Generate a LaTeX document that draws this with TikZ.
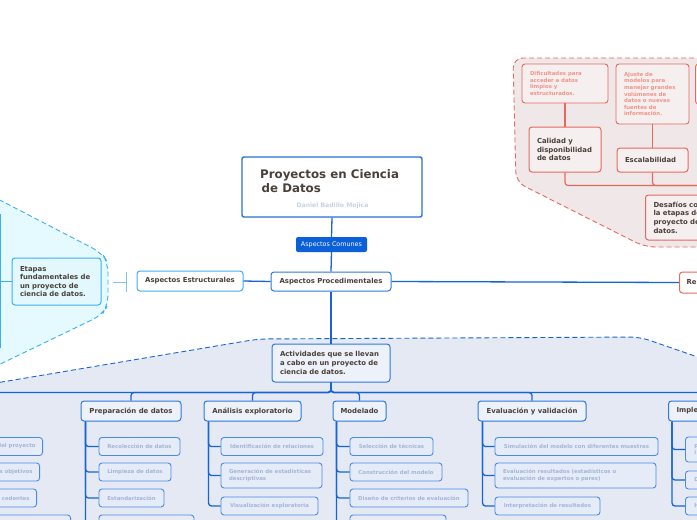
\documentclass[tikz,border=0pt]{standalone}
\usepackage{fontspec}
\setmainfont{DejaVu Sans}
\definecolor{ink}{HTML}{4A4039}
\definecolor{linkblue}{HTML}{1565D8}
\definecolor{titleline}{HTML}{2670DA}
\definecolor{combg}{HTML}{0B5FD8}
\definecolor{catline}{HTML}{2D78E0}
\definecolor{catfill}{HTML}{EDF1FA}
\definecolor{itemline}{HTML}{4A8BE6}
\definecolor{itemfill}{HTML}{E6ECF7}
\definecolor{itemtext}{HTML}{A3B5D9}
\definecolor{bluefill}{HTML}{E4E9F3}
\definecolor{cyanfill}{HTML}{E4FAFE}
\definecolor{cyanline}{HTML}{3DAEF0}
\definecolor{cyanbox}{HTML}{E2F8FD}
\definecolor{ticklight}{HTML}{7CC6F2}
\definecolor{authtext}{HTML}{C8D2E4}
\definecolor{redline}{HTML}{E5695E}
\definecolor{redfill}{HTML}{F0E8E8}
\definecolor{redbox}{HTML}{F5EFEF}
\definecolor{redtext}{HTML}{F29488}

\begin{document}
\begin{tikzpicture}[x=1pt, y=-1pt,
    box/.style={draw, rounded corners=3pt, line width=1pt, inner sep=0pt, text=ink,
        font=\bfseries\fontsize{6.9}{8.6}\selectfont},
    cat/.style={box, draw=catline, fill=catfill, minimum height=20},
    item/.style={box, draw=itemline, fill=itemfill, line width=0.9pt, minimum height=18,
        text=itemtext, font=\bfseries\fontsize{5.4}{6.3}\selectfont},
    reditem/.style={item, draw=redline, fill=redbox, text=redtext,
        font=\bfseries\fontsize{5.4}{6.6}\selectfont},
    redtopic/.style={box, draw=redline, fill=redbox},
    link/.style={draw=linkblue, line width=1.3pt, rounded corners=3pt},
    redlink/.style={draw=redline, line width=1.2pt, rounded corners=3pt},
    cyanlink/.style={draw=cyanline, line width=1.2pt},
    region/.style={dash pattern=on 5pt off 3pt, line width=0.9pt, rounded corners=10pt}
]

    \useasboundingbox (0,0) rectangle (697,520);
    \fill[white] (0,0) rectangle (697,520);

    % regions
    \path[region, draw=cyanline, fill=cyanfill] (-10,195) -- (102,253) -- (108,263) -- (108,305) -- (102,315) -- (-10,369) -- cycle;
    \path[region, draw=linkblue, fill=bluefill] (-10,384) -- (258,339) -- (640,337) -- (712,362) -- (712,530) -- (-10,530) -- cycle;
    \path[region, draw=redline, fill=redfill] (712,58) -- (513,58) -- (516,182) -- (645,247) -- (712,247) -- cycle;

    % centre
    \node[box, draw=titleline, fill=white, line width=1.4pt, rounded corners=2pt, minimum width=180, minimum height=60] (ttl) at (332,187) {};
    \node[anchor=north west, inner sep=0pt, text=ink, align=left, font=\bfseries\fontsize{11.8}{14}\selectfont] (ttltxt) at (260,169) {Proyectos en Ciencia\\\hspace{1.5pt}de Datos};
    \node[text=authtext, inner sep=0pt, font=\bfseries\fontsize{6.1}{7}\selectfont] (auth) at (332.5,205.5) {Daniel Badillo Mojica};
    \node[fill=combg, text=white, rounded corners=2pt, inner sep=0pt, minimum width=71, minimum height=15, font=\fontsize{6.4}{7}\selectfont] (com) at (331.5,244.5) {Aspectos Comunes};
    \node[cat, fill=white, minimum width=120, minimum height=19] (proc) at (331,281.5) {Aspectos Procedimentales};
    \node[box, draw=cyanline, fill=white, minimum width=106, minimum height=20] (est) at (190,281) {Aspectos Estructurales};
    \node[redtopic, fill=white, anchor=west, minimum height=21, text width=30, inner xsep=7pt, align=left] (re) at (679,282.5) {Re};

    \draw[link] (ttl.south) -- (com.north);
    \draw[link] (com.south) -- (proc.north);
    \draw[link] (proc.west) -- (est.east);
    \draw[link] (proc.east) -- (re.west);

    % etapas
    \node[box, draw=cyanline, fill=cyanbox, text width=73, inner xsep=8pt, minimum height=47, align=left] (etp) at (56.5,281.5) {Etapas\\fundamentales de\\un proyecto de\\ciencia de datos.};
    \coordinate (c1) at (-6,215);
    \coordinate (c2) at (-6,258);
    \coordinate (c3) at (-6,302);
    \coordinate (c4) at (-6,347);
    \coordinate (rgn) at (113,282);
    \coordinate (tick) at (126,282);
    \draw[cyanlink] (etp.west) -- ++(-11,0) |- (c1);
    \draw[cyanlink] (etp.west) -- ++(-11,0) |- (c2);
    \draw[cyanlink] (etp.west) -- ++(-11,0) |- (c3);
    \draw[cyanlink] (etp.west) -- ++(-11,0) |- (c4);
    \draw[cyanlink, draw=ticklight, line width=1pt] (rgn) -- (tick);
    \draw[cyanlink, draw=ticklight, line width=1pt] ([yshift=10pt]tick) -- ([yshift=-10pt]tick);

    % desafios
    \node[reditem, minimum width=86, minimum height=39, text width=70, inner xsep=8pt, align=left] (dif) at (565,83.5) {Dificultades para\\acceder a datos\\limpios y\\estructurados.};
    \node[reditem, minimum width=73, minimum height=60, text width=57, inner xsep=8pt, align=left] (aju) at (652.5,94) {Ajuste de\\modelos para\\manejar grandes\\volúmenes de\\datos o nuevas\\fuentes de\\información.};
    \node[reditem, anchor=west, minimum width=60, minimum height=40] (dif3) at (695,84) {};
    \node[redtopic, minimum width=72, minimum height=45, text width=56, inner xsep=8pt, align=left] (cal) at (565,149.5) {Calidad y\\disponibilidad\\de datos};
    \node[redtopic, minimum width=71, minimum height=24, text width=55, inner xsep=8pt, align=left] (esc) at (652.5,160) {Escalabilidad};
    \node[redtopic, anchor=west, minimum width=110, minimum height=45, text width=94, inner xsep=8pt, align=left] (des) at (645,217.5) {Desafíos co\\la etapas de\\proyecto de\\datos.};

    \draw[redlink] (dif.south) -- (cal.north);
    \draw[redlink] (aju.south) -- (esc.north);
    \draw[redlink] (cal.south) -- ++(0,13) -| (des.north);
    \draw[redlink] (esc.south) -- ++(0,13) -| (des.north);

    % actividades
    \node[box, draw=catline, fill=catfill, text width=102, inner xsep=8pt, minimum height=38, align=left] (act) at (331,363) {Actividades que se llevan\\a cabo en un proyecto de\\ciencia de datos.};
    \draw[link] (proc.south) -- (act.north);

    \coordinate (lcat) at (-60,401);
    \node[cat, minimum width=100] (prep) at (131,411) {Preparación de datos};
    \node[cat, minimum width=97] (ana) at (252.5,411) {Análisis exploratorio};
    \node[cat, minimum width=53] (mod) at (359.5,411) {Modelado};
    \node[cat, minimum width=108] (eva) at (532,411) {Evaluación y validación};
    \node[cat, anchor=west, text width=60, inner xsep=8pt, align=left] (imp) at (668,411) {Imple};

    \draw[link] (act.south) -- ++(0,10) -| (lcat);
    \draw[link] (act.south) -- ++(0,10) -| (prep.north);
    \draw[link] (act.south) -- ++(0,10) -| (ana.north);
    \draw[link] (act.south) -- ++(0,10) -| (mod.north);
    \draw[link] (act.south) -- ++(0,10) -| (eva.north);
    \draw[link] (act.south) -- ++(0,10) -| (imp.north);

    % left column
    \node[item, anchor=east, text width=80, inner xsep=7pt, align=right] (pro) at (43,446.5) {del proyecto};
    \node[item, anchor=east, text width=80, inner xsep=7pt, align=right] (obj) at (40,472) {s objetivos};
    \node[item, anchor=east, text width=80, inner xsep=7pt, align=right] (ant) at (37,498) {cedentes};
    \node[item, anchor=east, minimum width=100, minimum height=20] (lft4) at (71,525) {};

    % preparacion
    \node[item, minimum width=81] (rec) at (139.5,446.5) {Recolección de datos};
    \node[item, minimum width=72] (lim) at (135,472) {Limpieza de datos};
    \node[item, minimum width=65] (std) at (131.5,498) {Estandarización};
    \node[item, minimum width=95, minimum height=20] (prp4) at (146.5,525) {};
    \draw[link] ([xshift=5pt]prep.south west) |- (rec.west);
    \draw[link] ([xshift=5pt]prep.south west) |- (lim.west);
    \draw[link] ([xshift=5pt]prep.south west) |- (std.west);
    \draw[link] ([xshift=5pt]prep.south west) |- (prp4.west);

    % analisis
    \node[item, minimum width=102] (rel) at (272,446.5) {Identificación de relaciones};
    \node[item, minimum width=101, minimum height=25, text width=85, inner xsep=8pt, align=left] (gen) at (271.5,475.5) {Generación de estadísticas\\descriptivas};
    \node[item, minimum width=97] (vis) at (269.5,506) {Visualización exploratoria};
    \draw[link] ([xshift=5pt]ana.south west) |- (rel.west);
    \draw[link] ([xshift=5pt]ana.south west) |- (gen.west);
    \draw[link] ([xshift=5pt]ana.south west) |- (vis.west);

    % modelado
    \node[item, minimum width=83] (tec) at (391.5,446.5) {Selección de técnicas};
    \node[item, minimum width=92] (cons) at (396,472) {Construcción del modelo};
    \node[item, minimum width=118] (crit) at (409,498) {Diseño de criterios de evaluación};
    \node[item, minimum width=96, minimum height=20] (mod4) at (398,525) {};
    \draw[link] ([xshift=4pt]mod.south west) |- (tec.west);
    \draw[link] ([xshift=4pt]mod.south west) |- (cons.west);
    \draw[link] ([xshift=4pt]mod.south west) |- (crit.west);
    \draw[link] ([xshift=4pt]mod.south west) |- (mod4.west);

    % evaluacion
    \node[item, minimum width=163] (sim) at (576.5,446.5) {Simulación del modelo con diferentes muestras};
    \node[item, minimum width=161, minimum height=25, text width=145, inner xsep=8pt, align=left] (res) at (575.5,475.5) {Evaluación resultados (estadísticos o\\evaluación de expertos o pares)};
    \node[item, minimum width=105] (intp) at (547.5,506) {Interpretación de resultados};
    \draw[link] ([xshift=5pt]eva.south west) |- (sim.west);
    \draw[link] ([xshift=5pt]eva.south west) |- (res.west);
    \draw[link] ([xshift=5pt]eva.south west) |- (intp.west);

    % implementacion
    \node[item, anchor=west, minimum height=25, text width=60, inner xsep=9pt, align=left] (imp1) at (685,449.5) {p\\i};
    \node[item, anchor=west, text width=60, inner xsep=9pt, align=left] (imp2) at (685,480) {D};
    \node[item, anchor=west, text width=60, inner xsep=9pt, align=left] (imp3) at (685,506) {H};
    \draw[link] ([xshift=4pt]imp.south west) |- (imp1.west);
    \draw[link] ([xshift=4pt]imp.south west) |- (imp2.west);
    \draw[link] ([xshift=4pt]imp.south west) |- (imp3.west);

\end{tikzpicture}
\end{document}
